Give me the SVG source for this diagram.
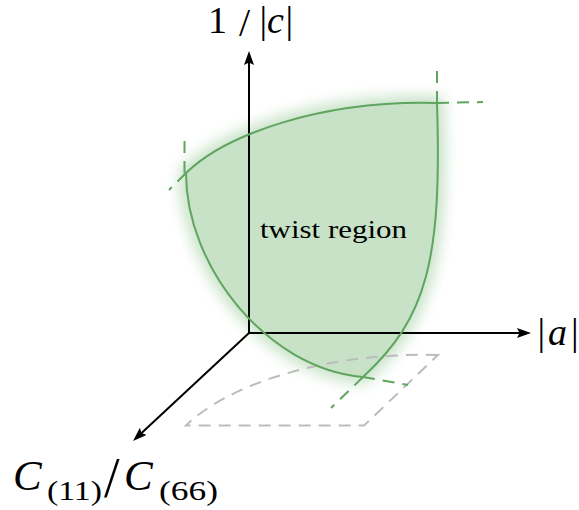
<svg xmlns="http://www.w3.org/2000/svg" width="579" height="510" viewBox="0 0 579 510">
<style>
.axis{stroke:#000;stroke-width:2;fill:none}
.curve{stroke:#5fa55f;stroke-width:2;fill:none}
.gdash{stroke:#5fa55f;stroke-width:2;fill:none;stroke-dasharray:12 8}
.gray{stroke:#bcbcbc;stroke-width:2;fill:none;stroke-dasharray:12 8}
.lbl{font-family:"Liberation Serif",serif;fill:#000}
</style>
<defs>
<marker id="arr" markerUnits="userSpaceOnUse" viewBox="0 0 14 10" markerWidth="14" markerHeight="10" refX="6" refY="5" orient="auto">
<path d="M0,0 L14,5 L0,10 L2.5,5 Z" fill="#000"/>
</marker>
<filter id="glow" x="-25%" y="-25%" width="150%" height="150%">
<feGaussianBlur stdDeviation="7"/>
</filter>
</defs>
<g id="region-fill">
<path d="M186,173 C225,135 320,100 437,103 C442,260 427,318 363,377 C265,368 186,265 186,173 Z" fill="#c8e2c8" stroke="#c8e2c8" stroke-width="14" stroke-linejoin="round" filter="url(#glow)"/>
<path d="M186,173 C225,135 320,100 437,103 C442,260 427,318 363,377 C265,368 186,265 186,173 Z" fill="#c8e2c8"/>
</g>
<g id="projection">
<path class="gray" d="M438,355 C320,352 225,387 186,425.5 L364,425.5 Z"/>
</g>
<g id="connectors">
<line id="axis-c" class="axis" x1="249" y1="333" x2="249" y2="59" marker-end="url(#arr)"/>
<line id="axis-a" class="axis" x1="248" y1="333" x2="523" y2="333" marker-end="url(#arr)"/>
<line id="axis-C" class="axis" x1="249" y1="333" x2="138.9" y2="435.5" marker-end="url(#arr)"/>
</g>
<g id="region-boundary">
<path class="curve" d="M186,173 C225,135 320,100 437,103"/>
<path class="curve" d="M437,103 C442,260 427,318 363,377"/>
<path class="curve" d="M186,173 C186,265 265,368 363,377"/>
<path class="gdash" d="M184.5,173 L184.5,134"/>
<path class="gdash" d="M186,173 L169,190"/>
<path class="gdash" d="M437,103 L437,64"/>
<path class="gdash" d="M437,103 L483,102"/>
<path class="gdash" d="M363,377 L331,408"/>
<path class="gdash" d="M363,377 L408,385"/>
</g>
<g id="region-label">
<text class="lbl" x="260" y="238" font-size="25" textLength="147" lengthAdjust="spacingAndGlyphs">twist region</text>
</g>
<g id="label-c">
<text class="lbl" x="208" y="33" font-size="38">1</text>
<text class="lbl" x="239" y="36" font-size="40">/</text>
<text class="lbl" y="33" font-size="38"><tspan x="259.5">|</tspan><tspan x="267" font-style="italic">c</tspan><tspan x="285.5">|</tspan></text>
</g>
<g id="label-a">
<text class="lbl" y="345" font-size="38"><tspan x="537.5">|</tspan><tspan x="548" font-style="italic">a</tspan><tspan x="571">|</tspan></text>
</g>
<g id="label-C">
<text class="lbl" y="490" font-size="43"><tspan x="13" font-style="italic">C</tspan></text>
<text class="lbl" x="47" y="500" font-size="28" textLength="55" lengthAdjust="spacingAndGlyphs">(11)</text>
<text class="lbl" x="104" y="497" font-size="56">/</text>
<text class="lbl" y="490" font-size="43"><tspan x="124" font-style="italic">C</tspan></text>
<text class="lbl" x="159" y="500" font-size="28" textLength="59" lengthAdjust="spacingAndGlyphs">(66)</text>
</g>
</svg>
